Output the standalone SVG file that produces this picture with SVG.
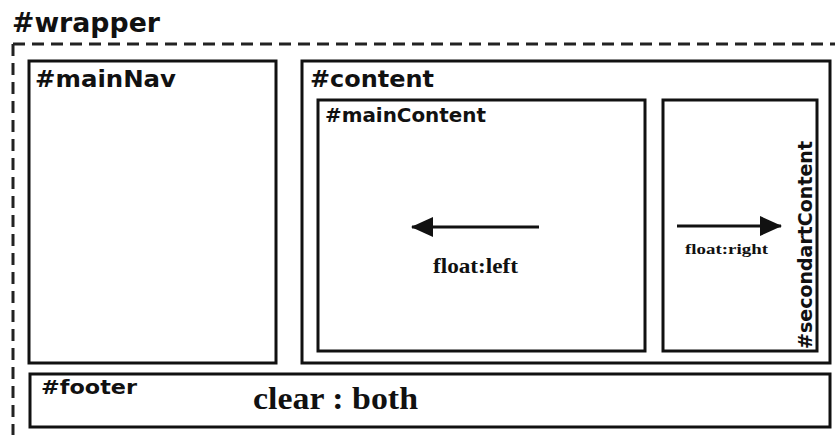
<svg xmlns="http://www.w3.org/2000/svg" width="835" height="435" viewBox="0 0 835 435">
<style>
.box{fill:#fff;stroke:#111;stroke-width:3}
.lbl{font-family:"DejaVu Sans","Liberation Sans",Arial,sans-serif;font-weight:bold;fill:#111}
.ser{font-family:"Liberation Serif","Times New Roman",serif;font-weight:bold;fill:#111}
.arr{stroke:#111;stroke-width:3;fill:none}
</style>
<defs>
<marker id="ah" viewBox="0 0 22 20" refX="21" refY="10" markerWidth="22" markerHeight="20" markerUnits="userSpaceOnUse" orient="auto">
<path d="M0,0 L22,10 L0,20 z" fill="#111"/>
</marker>
</defs>
<rect width="835" height="435" fill="#fff"/>
<g id="wrapper">
<path d="M13,44 H835 M13,44 V435" stroke="#222" stroke-width="3" stroke-dasharray="12,7" fill="none"/>
<text class="lbl" x="12" y="32" font-size="26" textLength="148" lengthAdjust="spacingAndGlyphs">#wrapper</text>
</g>
<g id="mainNav">
<rect class="box" x="29" y="61" width="247" height="302"/>
<text class="lbl" x="35" y="87" font-size="23" textLength="141" lengthAdjust="spacingAndGlyphs">#mainNav</text>
</g>
<g id="content">
<rect class="box" x="302" y="61" width="528" height="302"/>
<text class="lbl" x="310" y="87" font-size="23" textLength="124" lengthAdjust="spacingAndGlyphs">#content</text>
</g>
<g id="mainContent">
<rect class="box" x="318" y="100" width="327" height="251"/>
<text class="lbl" x="325" y="122" font-size="19" textLength="161" lengthAdjust="spacingAndGlyphs">#mainContent</text>
<text class="ser" x="433" y="273" font-size="21" textLength="85" lengthAdjust="spacingAndGlyphs">float:left</text>
</g>
<g id="secondartContent">
<rect class="box" x="663" y="100" width="154" height="251"/>
<text class="lbl" transform="translate(812,245) rotate(-90)" font-size="20" text-anchor="middle" textLength="208" lengthAdjust="spacingAndGlyphs">#secondartContent</text>
<text class="ser" x="685" y="254" font-size="15" textLength="83" lengthAdjust="spacingAndGlyphs">float:right</text>
</g>
<g id="footer">
<rect class="box" x="30" y="374" width="800" height="53"/>
<text class="lbl" x="41" y="394" font-size="20" textLength="96" lengthAdjust="spacingAndGlyphs">#footer</text>
<text class="ser" x="253" y="409" font-size="31" textLength="165" lengthAdjust="spacingAndGlyphs">clear : both</text>
</g>
<g id="connectors">
<line class="arr" x1="539" y1="227" x2="412" y2="227" marker-end="url(#ah)"/>
<line class="arr" x1="677" y1="226" x2="781" y2="226" marker-end="url(#ah)"/>
</g>
</svg>
